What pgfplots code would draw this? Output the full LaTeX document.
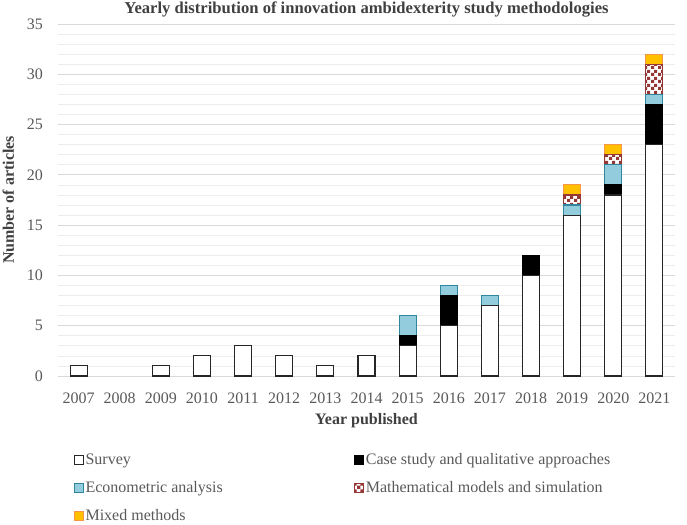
\documentclass[border=0pt]{standalone}
\usepackage{fontspec}
\setmainfont{Liberation Serif}
\usepackage{pgfplots}
\pgfplotsset{compat=1.18}
\usetikzlibrary{patterns.meta}
\definecolor{txt}{HTML}{595959}
\definecolor{ttl}{HTML}{404040}
\definecolor{gridmaj}{HTML}{D9D9D9}
\definecolor{gridmin}{HTML}{EDEDED}
\definecolor{surveyedge}{HTML}{262626}
\definecolor{econfill}{HTML}{93CDDD}
\definecolor{econedge}{HTML}{31859C}
\definecolor{mathred}{HTML}{953735}
\definecolor{mixfill}{HTML}{FFC000}
\definecolor{mixedge}{HTML}{F79646}
\pgfdeclarepattern{name=mycheck, type=uncolored,
  bottom left={\pgfpointorigin}, top right={\pgfqpoint{7pt}{7pt}},
  tile size={\pgfqpoint{7pt}{7pt}},
  code={\pgfpathrectangle{\pgfpointorigin}{\pgfqpoint{3.5pt}{3.5pt}}
        \pgfpathrectangle{\pgfqpoint{3.5pt}{3.5pt}}{\pgfqpoint{3.5pt}{3.5pt}}
        \pgfusepath{fill}}}
% cumulative tops of each segment (survey, +case, +econometric, +math, +mixed)
\pgfplotstableread{
x top
0 1
2 1
3 2
4 3
5 2
6 1
7 2
8 3
9 5
10 7
11 10
12 16
13 18
14 23
}\survey
\pgfplotstableread{
x top
8 4
9 8
11 12
13 19
14 27
}\casest
\pgfplotstableread{
x top
8 6
9 9
10 8
12 17
13 21
14 28
}\econ
\pgfplotstableread{
x top
12 18
13 22
14 31
}\mathsim
\pgfplotstableread{
x top
12 19
13 23
14 32
}\mixed
\begin{document}
\fontsize{16}{19}\selectfont
\begin{tikzpicture}
\useasboundingbox (0,0) rectangle (687pt,524pt);
\begin{axis}[
  at={(58pt,148pt)}, anchor=south west,
  scale only axis, width=617pt, height=352pt,
  ybar,
  mybar/.style={bar shift=0pt, bar width=17pt, line width=1.1pt,
    legend image code/.code={\draw[##1, line width=1pt] (0pt,-4.5pt) rectangle (9pt,4.5pt);}},
  xmin=-0.5, xmax=14.5, ymin=0, ymax=35,
  xtick={0,...,14},
  xticklabels={2007,2008,2009,2010,2011,2012,2013,2014,2015,2016,2017,2018,2019,2020,2021},
  ytick={0,5,...,35}, minor y tick num=4,
  ymajorgrids, yminorgrids,
  major grid style={draw=gridmaj, line width=0.9pt},
  minor grid style={draw=gridmin, line width=0.7pt},
  axis x line*=bottom, axis y line*=left,
  y axis line style={draw=none},
  x axis line style={draw=gridmaj, line width=1pt, -},
  major tick length=0pt, minor tick length=0pt,
  /pgf/number format/assume math mode=true,
  tick label style={font=\fontsize{16}{19}\selectfont, text=txt, inner sep=0pt},
  xticklabel style={anchor=base, yshift=-27pt},
  yticklabel style={anchor=east, xshift=-15pt},
  title={Yearly distribution of innovation ambidexterity study methodologies},
  title style={font=\bfseries\fontsize{16.6}{19}\selectfont, text=ttl, at={(0.5,1)}, anchor=base, yshift=4pt, inner sep=0pt},
  xlabel={Year published},
  xlabel style={font=\bfseries\fontsize{16}{19}\selectfont, text=ttl, at={(0.5,0)}, anchor=base, yshift=-48pt, inner sep=0pt},
  ylabel={Number of articles},
  ylabel style={font=\bfseries\fontsize{16}{19}\selectfont, text=ttl, at={(0,0.5)}, anchor=base, yshift=44pt, inner sep=0pt},
  legend columns=2, reverse legend, legend cell align=left,
  legend style={draw=none, fill=none, at={(0.02,-0.204)}, anchor=north west,
    font=\fontsize{16}{19}\selectfont, text=txt,
    nodes={text height=12pt, text depth=4pt, inner sep=2pt},
    row sep=8pt,
    /tikz/every even column/.append style={column sep=129pt}},
]
\addplot[mybar, fill=mixfill, draw=mixedge] table[x=x, y=top] {\mixed};
\addlegendentry{Mixed methods}
\addplot[mybar, draw=mathred, fill=white, postaction={pattern={mycheck}, pattern color=mathred}] table[x=x, y=top] {\mathsim};
\addlegendentry{Mathematical models and simulation}
\addplot[mybar, fill=econfill, draw=econedge] table[x=x, y=top] {\econ};
\addlegendentry{Econometric analysis}
\addplot[mybar, fill=black, draw=black] table[x=x, y=top] {\casest};
\addlegendentry{Case study and qualitative approaches}
\addplot[mybar, fill=white, draw=surveyedge] table[x=x, y=top] {\survey};
\addlegendentry{Survey}
\end{axis}
\end{tikzpicture}
\end{document}
